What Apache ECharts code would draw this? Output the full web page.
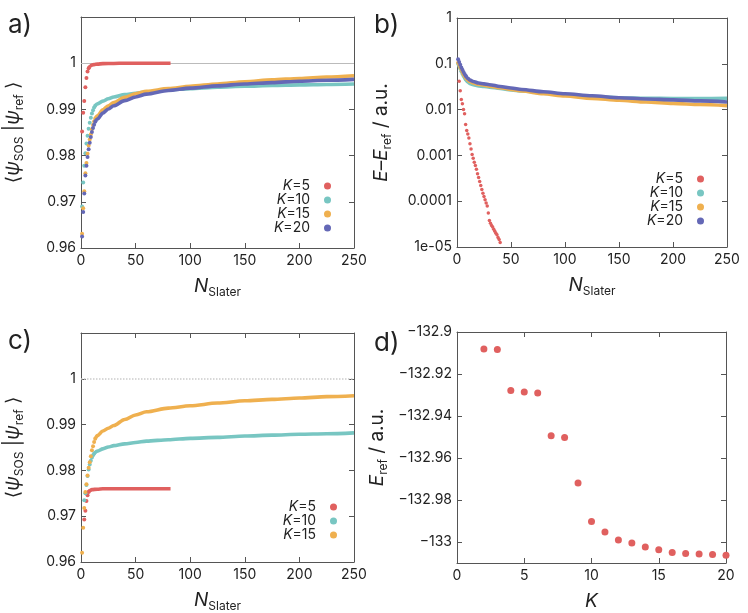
<!DOCTYPE html>
<html>
<head>
<meta charset="utf-8">
<script src="https://cdn.jsdelivr.net/npm/echarts@6/dist/echarts.min.js"></script>
<style>
  html, body { margin: 0; padding: 0; background: #fff; }
  #chart { width: 748px; height: 613px; }
</style>
</head>
<body>
<div id="chart"></div>
<script>
// ---- data ----
const legendNames = ['K=5', 'K=10', 'K=15', 'K=20'];
const colors = ['#e0605f', '#78c6c2', '#efb04f', '#6468b6'];

// panel a) overlap vs number of Slater determinants
const aHeadN = [1, 2, 3, 4, 5, 6, 7, 8, 9, 10, 11, 12, 13];
const aTailN = [13, 15, 20, 25, 30, 40, 50, 60, 80, 100, 125, 150, 175, 200, 225, 250];
const aK5HeadN = [1, 2, 3, 4, 5, 6, 7];
const aK5Head = [0.9852, 0.9893, 0.9918, 0.9948, 0.9968, 0.9982, 0.9989];
const aK5TailN = [7, 8, 10, 12, 15, 20, 30, 40, 50, 60, 70, 82];
const aK5Tail = [0.9989, 0.9993, 0.9996, 0.9997, 0.9998, 0.9999, 0.99995, 1.0, 1.0, 1.0, 1.0, 1.0];
const aK10Head = [0.9690, 0.9742, 0.9778, 0.9805, 0.9826, 0.9843, 0.9858, 0.9871, 0.9882, 0.9891, 0.9898, 0.9904, 0.9908];
const aK10Tail = [0.9908, 0.9912, 0.9918, 0.9923, 0.9927, 0.9932, 0.9935, 0.9938, 0.9942, 0.9945, 0.9948, 0.9950, 0.9952, 0.9953, 0.9954, 0.9955];
const aK15Head = [0.9631, 0.9686, 0.9723, 0.9762, 0.9784, 0.9804, 0.9822, 0.9835, 0.9846, 0.9857, 0.9866, 0.9874, 0.9880];
const aK15Tail = [0.9880, 0.9886, 0.9899, 0.9908, 0.9915, 0.9926, 0.9934, 0.9939, 0.9945, 0.9950, 0.9955, 0.9960, 0.9964, 0.9967, 0.9970, 0.9973];
const aK20Head = [0.9625, 0.9678, 0.9718, 0.9757, 0.9778, 0.9797, 0.9814, 0.9828, 0.9840, 0.9851, 0.9860, 0.9867, 0.9873];
const aK20Tail = [0.9873, 0.9879, 0.9892, 0.9901, 0.9908, 0.9919, 0.9927, 0.9933, 0.9941, 0.9946, 0.9951, 0.9955, 0.9958, 0.9961, 0.9963, 0.9965];

// panel b) energy error (log scale)
const bK5N = [2, 3, 4, 5, 6, 7, 8, 9, 10, 11, 12, 13, 14, 15, 16, 17, 18, 19, 20, 21,
  22, 23, 24, 25, 26, 27, 28, 29, 30, 31, 32, 33, 34, 35, 36, 37, 38, 39, 40];
const bK5 = [0.0417, 0.0257, 0.0166, 0.0135, 0.0100, 0.0081, 0.0047, 0.0035, 0.00295, 0.0024,
  0.0018, 0.00138, 0.00105, 0.00087, 0.00071, 0.00060, 0.00050, 0.00040, 0.00033, 0.00027,
  0.00022, 0.00018, 0.00015, 0.000126, 0.000107, 9.1e-5, 7.9e-5, 5.5e-5, 3.8e-5, 3.3e-5,
  2.95e-5, 2.75e-5, 2.45e-5, 2.2e-5, 2.0e-5, 1.86e-5, 1.62e-5, 1.45e-5, 1.26e-5];
const bHeadN = [1, 2, 3, 4, 5, 6, 7, 8];
const bTailN = [8, 10, 12, 15, 20, 25, 30, 40, 50, 60, 80, 100, 125, 150, 175, 200, 225, 250];
const bK10Head = [0.100, 0.090, 0.079, 0.069, 0.061, 0.055, 0.050, 0.046];
const bK10Tail = [0.046, 0.040, 0.037, 0.035, 0.033, 0.032, 0.031, 0.029, 0.027, 0.0255, 0.0228, 0.0208, 0.0192, 0.0182, 0.0177, 0.0175, 0.0175, 0.0176];
const bK15Head = [0.105, 0.095, 0.084, 0.074, 0.066, 0.059, 0.054, 0.050];
const bK15Tail = [0.050, 0.044, 0.041, 0.038, 0.0355, 0.034, 0.0325, 0.030, 0.0275, 0.0255, 0.0222, 0.0198, 0.0176, 0.0160, 0.0147, 0.0137, 0.0129, 0.0122];
const bK20Head = [0.125, 0.110, 0.095, 0.083, 0.074, 0.066, 0.060, 0.055];
const bK20Tail = [0.055, 0.048, 0.044, 0.041, 0.038, 0.0365, 0.035, 0.032, 0.0296, 0.0275, 0.0245, 0.0222, 0.0200, 0.0182, 0.0171, 0.0163, 0.0155, 0.0147];
const bTickLabels = ['1e-05', '0.0001', '0.001', '0.01', '0.1', '1'];

// panel c) overlap, second set
const cK5HeadN = [3, 4, 5, 6, 7];
const cK5Head = [0.9693, 0.9712, 0.9733, 0.9746, 0.9753];
const cK5TailN = [7, 8, 10, 15, 20, 30, 50, 82];
const cK5Tail = [0.9753, 0.9756, 0.9758, 0.9759, 0.9760, 0.9760, 0.9760, 0.9760];
const cK10HeadN = [3, 4, 5, 6, 7, 8, 9, 10, 11, 12];
const cK10Head = [0.9735, 0.9750, 0.9768, 0.9788, 0.9802, 0.9813, 0.9821, 0.9828, 0.9833, 0.9837];
const cK10TailN = [12, 15, 20, 25, 30, 40, 50, 60, 80, 100, 125, 150, 175, 200, 225, 250];
const cK10Tail = [0.9837, 0.9842, 0.9847, 0.9851, 0.9854, 0.9858, 0.9861, 0.9864, 0.9867, 0.9870, 0.9872, 0.9875, 0.9877, 0.9879, 0.9880, 0.9882];
const cK15HeadN = [1, 2, 3, 4, 5, 6, 7, 8, 9, 10, 11, 12, 13];
const cK15Head = [0.9620, 0.9675, 0.9718, 0.9753, 0.9770, 0.9789, 0.9806, 0.9818, 0.9831, 0.9844, 0.9853, 0.9862, 0.9869];
const cK15TailN = [13, 15, 20, 25, 30, 40, 50, 60, 80, 100, 125, 150, 175, 200, 225, 250];
const cK15Tail = [0.9869, 0.9876, 0.9886, 0.9892, 0.9898, 0.9911, 0.9921, 0.9928, 0.9936, 0.9941, 0.9947, 0.9952, 0.9955, 0.9958, 0.9961, 0.9963];

// panel d) reference energy vs K
const dK = [2, 3, 4, 5, 6, 7, 8, 9, 10, 11, 12, 13, 14, 15, 16, 17, 18, 19, 20];
const dE = [-132.9081, -132.9083, -132.9278, -132.9286, -132.9290, -132.9494, -132.9502, -132.9719,
  -132.9902, -132.9952, -132.9990, -133.0005, -133.0024, -133.0037, -133.0050, -133.0055,
  -133.0057, -133.0060, -133.0063];

// ---- helpers ----
const FONT = "Inter, 'DejaVu Sans', sans-serif";
const axisColor = '#555';
const nameRich = {
  t: { fontSize: 19, lineHeight: 24, fontFamily: FONT, color: '#222' },
  i: { fontSize: 19, lineHeight: 24, fontFamily: FONT, fontStyle: 'italic', color: '#222' },
  s: { fontSize: 12, lineHeight: 12, fontFamily: FONT, verticalAlign: 'bottom', color: '#222' }
};

function pts(ns, vs) {
  return ns.map((n, i) => [n, vs[i]]);
}

function xAxes(grid, min, max, interval, name) {
  return [{
    type: 'value', gridIndex: grid, min: min, max: max, interval: interval, position: 'bottom',
    name: name, nameLocation: 'middle', nameGap: 26,
    nameTextStyle: { rich: nameRich },
    axisLine: { onZero: false, lineStyle: { color: axisColor } },
    axisTick: { inside: true, length: 5, lineStyle: { color: axisColor } },
    axisLabel: { color: '#222', fontSize: 14, fontFamily: FONT, margin: 6 },
    splitLine: { show: false }
  }, {
    type: 'value', gridIndex: grid, min: min, max: max, interval: interval, position: 'top',
    axisLine: { onZero: false, lineStyle: { color: axisColor } },
    axisTick: { inside: true, length: 5, lineStyle: { color: axisColor } },
    axisLabel: { show: false },
    splitLine: { show: false }
  }];
}

function yAxes(grid, extra, name, nameGap) {
  const base = Object.assign({ gridIndex: grid }, extra);
  return [Object.assign({}, base, {
    position: 'left',
    name: name, nameLocation: 'middle', nameGap: nameGap, nameRotate: 90,
    nameTextStyle: { rich: nameRich },
    axisLine: { onZero: false, lineStyle: { color: axisColor } },
    axisTick: { inside: true, length: 5, lineStyle: { color: axisColor } },
    axisLabel: Object.assign({ color: '#222', fontSize: 14, fontFamily: FONT, margin: 5 }, extra.axisLabel || {}),
    splitLine: { show: false }
  }), Object.assign({}, base, {
    position: 'right',
    axisLine: { onZero: false, lineStyle: { color: axisColor } },
    axisTick: { inside: true, length: 5, lineStyle: { color: axisColor } },
    axisLabel: { show: false },
    splitLine: { show: false }
  })];
}

function head(name, color, axis, ns, vs, size) {
  return {
    type: 'scatter', name: name, xAxisIndex: axis, yAxisIndex: axis,
    data: pts(ns, vs), symbol: 'circle', symbolSize: size || 4,
    itemStyle: { color: color, opacity: 1 }, silent: true
  };
}

function tail(color, axis, ns, vs) {
  return {
    type: 'line', name: '', xAxisIndex: axis, yAxisIndex: axis,
    data: pts(ns, vs), showSymbol: false, smooth: 0.3, smoothMonotone: 'x',
    lineStyle: { color: color, width: 3.6 }, itemStyle: { color: color }, silent: true
  };
}

function legend(names, right, top) {
  return {
    data: names, orient: 'vertical', align: 'right', right: right, top: top,
    padding: 0, itemGap: 0, itemWidth: 7, itemHeight: 7, icon: 'circle',
    selectedMode: false,
    formatter: n => '{k|K}' + n.slice(1),
    textStyle: {
      fontSize: 14, lineHeight: 12.7, fontFamily: FONT, color: '#222', padding: [0, 9, 0, 0],
      rich: { k: { fontStyle: 'italic', fontSize: 14, fontFamily: FONT, color: '#222' } }
    }
  };
}

const overlapName = '{t|\u27e8}{i|\u03c8}{s|SOS}{t| |}{i|\u03c8}{s|ref}{t| \u27e9}';
const nSlater = '{i|N}{s|Slater}';
const minus = v => String(v).replace('-', '\u2212');

const chart = echarts.init(document.getElementById('chart'));
chart.setOption({
  backgroundColor: '#fff',
  animation: false,
  grid: [
    { left: 81, top: 17, width: 273, height: 231 },
    { left: 457, top: 18, width: 270, height: 229 },
    { left: 81, top: 333, width: 273, height: 230 },
    { left: 457, top: 332, width: 269, height: 231 }
  ],
  xAxis: [].concat(
    xAxes(0, 0, 250, 50, nSlater),
    xAxes(1, 0, 250, 50, nSlater),
    xAxes(2, 0, 250, 50, nSlater),
    xAxes(3, 0, 20, 5, '{i|K}')
  ),
  yAxis: [].concat(
    yAxes(0, { type: 'value', min: 0.96, max: 1.01, interval: 0.01,
      axisLabel: { formatter: v => (v > 1.005 ? '' : String(v)) } }, overlapName, 56),
    yAxes(1, { type: 'log', logBase: 10, min: 1e-5, max: 1,
      axisLabel: { formatter: v => bTickLabels[Math.round(Math.log10(v)) + 5] } },
      '{i|E}{t|\u2013}{i|E}{s|ref}{t| / a.u.}', 64),
    yAxes(2, { type: 'value', min: 0.96, max: 1.01, interval: 0.01,
      axisLabel: { formatter: v => (v > 1.005 ? '' : String(v)) } }, overlapName, 56),
    // no fixed interval here: the nice step (0.02) is then aligned to round values
    yAxes(3, { type: 'value', min: -133.01, max: -132.9, splitNumber: 5,
      axisLabel: { showMinLabel: false, formatter: minus } },
      '{i|E}{s|ref}{t| / a.u.}', 68)
  ),
  legend: [
    legend(legendNames, 417, 179),
    legend(legendNames, 44, 172),
    legend(legendNames.slice(0, 3), 411, 500)
  ],
  graphic: [
    { type: 'text', left: 8, top: 12, style: { text: 'a)', fontSize: 26, fontFamily: FONT, fill: '#222' } },
    { type: 'text', left: 374, top: 12, style: { text: 'b)', fontSize: 26, fontFamily: FONT, fill: '#222' } },
    { type: 'text', left: 8, top: 328, style: { text: 'c)', fontSize: 26, fontFamily: FONT, fill: '#222' } },
    { type: 'text', left: 374, top: 330, style: { text: 'd)', fontSize: 26, fontFamily: FONT, fill: '#222' } }
  ],
  series: [
    // a)
    Object.assign(tail(colors[0], 0, aK5TailN, aK5Tail), {
      markLine: { silent: true, symbol: 'none', label: { show: false }, z: 1,
        lineStyle: { color: '#bbb', width: 1, type: 'solid' }, data: [{ yAxis: 1 }] }
    }),
    head('K=5', colors[0], 0, aK5HeadN, aK5Head),
    tail(colors[1], 0, aTailN, aK10Tail),
    head('K=10', colors[1], 0, aHeadN, aK10Head),
    tail(colors[2], 0, aTailN, aK15Tail),
    head('K=15', colors[2], 0, aHeadN, aK15Head),
    tail(colors[3], 0, aTailN, aK20Tail),
    head('K=20', colors[3], 0, aHeadN, aK20Head),
    // b)
    head('K=5', colors[0], 2, bK5N, bK5, 3.5),
    tail(colors[1], 2, bTailN, bK10Tail),
    head('K=10', colors[1], 2, bHeadN, bK10Head),
    tail(colors[2], 2, bTailN, bK15Tail),
    head('K=15', colors[2], 2, bHeadN, bK15Head),
    tail(colors[3], 2, bTailN, bK20Tail),
    head('K=20', colors[3], 2, bHeadN, bK20Head),
    // c)
    Object.assign(tail(colors[0], 4, cK5TailN, cK5Tail), {
      markLine: { silent: true, symbol: 'none', label: { show: false }, z: 1,
        lineStyle: { color: '#ccc', width: 1.5, type: 'dotted' }, data: [{ yAxis: 1 }] }
    }),
    head('K=5', colors[0], 4, cK5HeadN, cK5Head),
    tail(colors[1], 4, cK10TailN, cK10Tail),
    head('K=10', colors[1], 4, cK10HeadN, cK10Head),
    tail(colors[2], 4, cK15TailN, cK15Tail),
    head('K=15', colors[2], 4, cK15HeadN, cK15Head),
    // d)
    head('Eref', colors[0], 6, dK, dE, 7)
  ]
});
</script>
</body>
</html>
